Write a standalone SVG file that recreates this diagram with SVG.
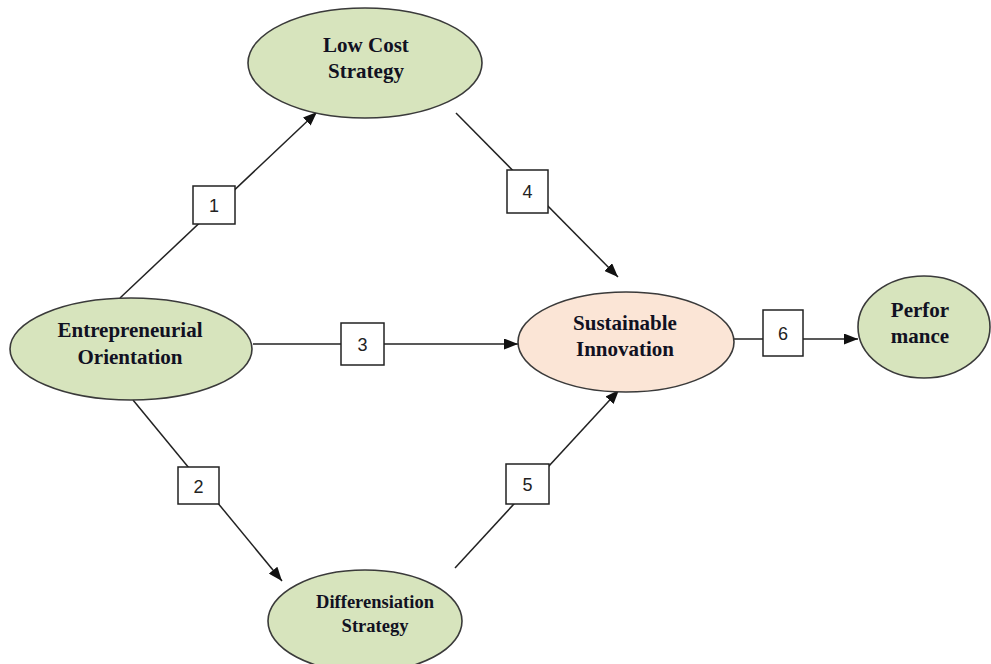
<svg xmlns="http://www.w3.org/2000/svg" width="991" height="664" viewBox="0 0 991 664">
<style>
.g{fill:#d7e4bd;stroke:#3a3a3a;stroke-width:1.6}
.o{fill:#fbe5d6;stroke:#3a3a3a;stroke-width:1.6}
.t{font-family:"Liberation Serif","Times New Roman",serif;font-weight:bold;font-size:21px;fill:#111122;text-anchor:middle}
.ts{font-size:18.5px}
.c{stroke:#222;stroke-width:1.5;fill:none}
.b{fill:#fff;stroke:#222;stroke-width:1.5}
.n{font-family:"Liberation Sans",Arial,sans-serif;font-size:18px;fill:#222;text-anchor:middle}
</style>
<defs>
<marker id="ah" viewBox="0 0 14 11" refX="14" refY="5.5" markerWidth="14" markerHeight="11" markerUnits="userSpaceOnUse" orient="auto">
<path d="M0,0 L14,5.5 L0,11 Z" fill="#111"/>
</marker>
</defs>
<rect width="991" height="664" fill="#fff"/>
<g id="connectors">
<line class="c" x1="120" y1="298" x2="317" y2="112" marker-end="url(#ah)"/>
<line class="c" x1="456" y1="113" x2="618" y2="277" marker-end="url(#ah)"/>
<line class="c" x1="253" y1="344" x2="518" y2="344" marker-end="url(#ah)"/>
<line class="c" x1="133" y1="400" x2="282" y2="581" marker-end="url(#ah)"/>
<line class="c" x1="455" y1="568" x2="619" y2="390" marker-end="url(#ah)"/>
<line class="c" x1="733" y1="339" x2="858" y2="339" marker-end="url(#ah)"/>
<g id="label1"><rect class="b" x="193" y="186" width="42" height="38"/><text class="n" x="214" y="212">1</text></g>
<g id="label4"><rect class="b" x="507" y="170" width="41" height="43"/><text class="n" x="527.5" y="198">4</text></g>
<g id="label3"><rect class="b" x="341" y="323" width="43" height="42"/><text class="n" x="362.5" y="351">3</text></g>
<g id="label2"><rect class="b" x="178" y="467" width="41" height="37"/><text class="n" x="198.5" y="493">2</text></g>
<g id="label5"><rect class="b" x="506" y="464" width="43" height="40"/><text class="n" x="527.5" y="491">5</text></g>
<g id="label6"><rect class="b" x="763" y="310" width="40" height="46"/><text class="n" x="783" y="340">6</text></g>
</g>
<g id="lowcost">
<ellipse class="g" cx="365" cy="63" rx="117" ry="55"/>
<text class="t" x="366" y="52">Low Cost</text>
<text class="t" x="366" y="78">Strategy</text>
</g>
<g id="eo">
<ellipse class="g" cx="131" cy="349" rx="121" ry="51"/>
<text class="t" x="130" y="337">Entrepreneurial</text>
<text class="t" x="130" y="364">Orientation</text>
</g>
<g id="si">
<ellipse class="o" cx="626" cy="342" rx="108" ry="50"/>
<text class="t" x="625" y="330">Sustainable</text>
<text class="t" x="625" y="356">Innovation</text>
</g>
<g id="perf">
<ellipse class="g" cx="924" cy="327" rx="66" ry="51"/>
<text class="t" x="920" y="317">Perfor</text>
<text class="t" x="920" y="343">mance</text>
</g>
<g id="diff">
<ellipse class="g" cx="365" cy="621" rx="97" ry="51"/>
<text class="t ts" x="375" y="608">Differensiation</text>
<text class="t ts" x="375" y="632">Strategy</text>
</g>
</svg>
